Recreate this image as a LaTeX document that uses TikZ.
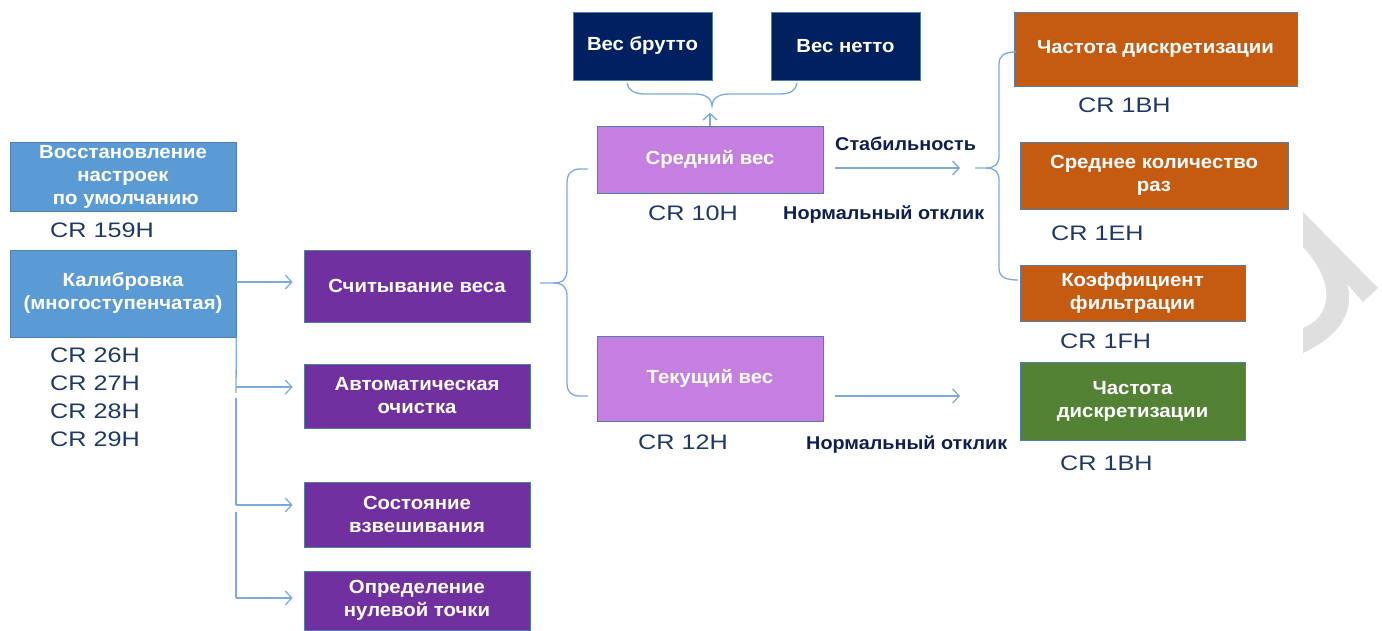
\documentclass[tikz,border=0pt]{standalone}
\usepackage{fontspec}
\setmainfont{Liberation Sans}[FakeStretch=1.07]
\newfontfamily\crfont{Liberation Sans}[FakeStretch=1.2]
\usetikzlibrary{arrows.meta}
\definecolor{lblue}{HTML}{5B9BD5}
\definecolor{linec}{HTML}{7EAADB}
\definecolor{purp}{HTML}{7030A0}
\definecolor{lpurp}{HTML}{C47FE0}
\definecolor{navy}{HTML}{002060}
\definecolor{orng}{HTML}{C55A11}
\definecolor{grn}{HTML}{548235}
\definecolor{crc}{HTML}{1F3864}
\definecolor{labc}{HTML}{0F1F50}
\definecolor{edge}{HTML}{4F7EB0}
\tikzset{
  box/.style={draw=edge, line width=0.7pt, text=white, align=center, inner sep=0pt,
    font=\bfseries\fontsize{19}{23}\selectfont},
  crlab/.style={anchor=west, inner sep=0pt, text=crc, font=\crfont\fontsize{21}{24}\selectfont},
  lab/.style={anchor=west, inner sep=0pt, text=labc, font=\bfseries\fontsize{18.5}{22}\selectfont},
  conn/.style={draw=linec, line width=1.3pt},
  arr/.style={conn, -{Straight Barb[length=6.5pt,width=14pt,line width=1.3pt]}},
}
\begin{document}
\begin{tikzpicture}[x=1pt,y=-1pt]
\useasboundingbox (0,0) rectangle (1382,631);
% watermark
\fill[gray!25] (1303,212) -- (1378,288) -- (1363,302) -- (1347,284) .. controls (1353,302) and (1349,332) .. (1303,353) -- (1303,328) .. controls (1330,318) and (1338,285) .. (1303,247) -- cycle;
% left column
\node[box, fill=lblue, minimum width=226pt, minimum height=69pt] (restore) at (123,176.5) {Восстановление\\настроек\\\ по умолчанию};
\node[box, fill=lblue, minimum width=226pt, minimum height=87pt] (calib) at (123,293.5) {Калибровка\\(многоступенчатая)};
\node[crlab] (cr159) at (50,230) {CR 159H};
\node[crlab] (cr26) at (50,355) {CR 26H};
\node[crlab] (cr27) at (50,383) {CR 27H};
\node[crlab] (cr28) at (50,411) {CR 28H};
\node[crlab] (cr29) at (50,439) {CR 29H};
% purple column
\node[box, fill=purp, minimum width=226pt, minimum height=72pt] (read) at (417,286) {Считывание веса};
\node[box, fill=purp, minimum width=226pt, minimum height=64pt] (auto) at (417,396) {Автоматическая\\очистка};
\node[box, fill=purp, minimum width=226pt, minimum height=65pt] (state) at (417,514.5) {Состояние\\взвешивания};
\node[box, fill=purp, minimum width=226pt, minimum height=59pt] (zero) at (417,600.5) {Определение\\нулевой точки};
% middle
\node[box, fill=lpurp, minimum width=226pt, minimum height=67pt] (avg) at (710,159.5) {Средний вес};
\node[box, fill=lpurp, minimum width=226pt, minimum height=85pt] (cur) at (710,378.5) {Текущий вес};
\node[crlab] (cr10) at (648,213) {CR 10H};
\node[crlab] (cr12) at (638,442) {CR 12H};
\node[box, fill=navy, minimum width=139pt, minimum height=68pt] (gross) at (642.5,46) {Вес брутто};
\node[box, fill=navy, minimum width=149pt, minimum height=68pt] (net) at (845.5,46) {Вес нетто};
\node[lab] (stab) at (835,144) {Стабильность};
\node[lab] (norm1) at (783,215) {Нормальный отклик};
\node[lab] (norm2) at (806,445) {Нормальный отклик};
% right column
\node[box, fill=orng, minimum width=283pt, minimum height=74pt] (freq1) at (1155.5,49) {Частота дискретизации};
\node[box, fill=orng, minimum width=268pt, minimum height=67pt] (avgcnt) at (1154,175.5) {Среднее количество\\раз};
\node[box, fill=orng, minimum width=225pt, minimum height=56pt] (filt) at (1132.5,293) {Коэффициент\\фильтрации};
\node[box, fill=grn, minimum width=225pt, minimum height=78pt] (freq2) at (1132.5,401) {Частота\\дискретизации};
\node[crlab] (cr1bh) at (1078,105) {CR 1BH};
\node[crlab] (cr1eh) at (1051,233) {CR 1EH};
\node[crlab] (cr1fh) at (1060,341) {CR 1FH};
\node[crlab] (cr1bh2) at (1060,463) {CR 1BH};
% left connectors
\coordinate (j0) at (236,282);
\coordinate (j1) at (236,387);
\coordinate (j2) at (236,505);
\coordinate (j3) at (236,598);
\draw[conn] (calib.south east) -- ([yshift=-6pt]j1);
\draw[conn] ([yshift=-11pt]j1) -- (j2);
\draw[conn] ([yshift=-7pt]j2) -- (j3);
\draw[arr, shorten >=11pt] (j0) -- (j0 -| read.west);
\draw[arr, shorten >=11pt] (j1) -- (j1 -| auto.west);
\draw[arr, shorten >=11pt] (j2) -- (j2 -| state.west);
\draw[arr, shorten >=11pt] (j3) -- (j3 -| zero.west);
% left brace
\coordinate (lb) at (540,283);
\draw[conn] (lb) -- (553,283) .. controls (563,283) and (567,279) .. (567,270) -- (567,183) .. controls (567,174) and (571,169) .. (580,169) -- (588,169);
\draw[conn] (553,283) .. controls (563,283) and (567,287) .. (567,296) -- (567,383) .. controls (567,392) and (571,396) .. (580,396) -- (588,396);
% top brace
\coordinate (tb) at (712,106);
\draw[conn] (627,83) .. controls (628,90) and (634,94) .. (645,94) -- (695,94) .. controls (706,94) and (712,99) .. (tb) .. controls (712,99) and (718,94) .. (729,94) -- (780,94) .. controls (791,94) and (796,90) .. (797,83);
\draw[arr] (avg.north) -- ++(0,-13);
% middle arrows
\coordinate (a1) at (835,168);
\coordinate (a2) at (835,396);
\draw[arr] (a1) -- ++(125,0);
\draw[arr] (a2) -- ++(125,0);
% right brace
\coordinate (rb) at (975,168);
\draw[conn] (rb) -- (986,168) .. controls (995,168) and (999,164) .. (999,156) -- (999,64) .. controls (999,56) and (1004,52) .. (1016,52);
\draw[conn] (986,168) .. controls (995,168) and (999,172) .. (999,180) -- (999,268) .. controls (999,276) and (1004,280) .. (1018,280);
\end{tikzpicture}
\end{document}
